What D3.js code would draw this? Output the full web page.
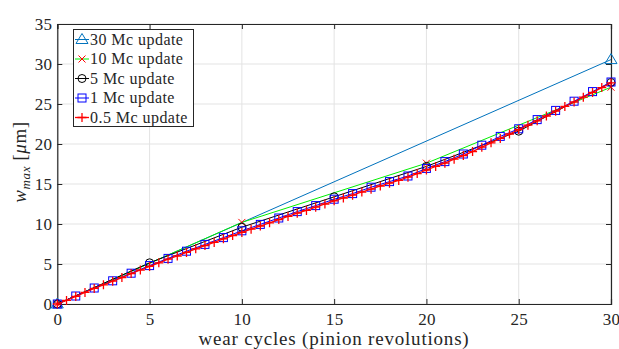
<!DOCTYPE html>
<html>
<head>
<meta charset="utf-8">
<script src="https://cdn.jsdelivr.net/npm/d3@7"></script>
<style>
body { margin: 0; background: #fff; }
svg { display: block; }
text { font-family: "Liberation Serif", "DejaVu Serif", serif; fill: #262626; }
</style>
</head>
<body>
<svg id="chart"></svg>
<script>
// data
var xTicks = [0, 5, 10, 15, 20, 25, 30];
var yTicks = [0, 5, 10, 15, 20, 25, 30, 35];

var x30 = [0, 30];
var y30 = [0, 30.55];

var x10 = [0, 10, 20, 30];
var y10 = [0, 10.2, 17.6, 27.1];

var x5 = [0, 5, 10, 15, 20, 25, 30];
var y5 = [0, 5.15, 9.6, 13.4, 17.2, 21.6, 27.7];

var x1 = d3.range(0, 31, 1);
var y1 = [0, 1.0, 2.0, 2.9, 3.85, 4.8, 5.7, 6.6, 7.45, 8.3, 9.15, 9.95, 10.75, 11.55, 12.3, 13.1,
  13.8, 14.6, 15.3, 16.0, 16.95, 17.8, 18.75, 19.85, 20.95, 21.9, 23.05, 24.2, 25.35, 26.55, 27.75];

var xHalf = d3.range(0, 30.01, 0.5);
var yHalf = [0, 0.45, 0.95, 1.45, 1.95, 2.4, 2.85, 3.3, 3.8, 4.25,
  4.7, 5.15, 5.6, 6.0, 6.45, 6.9, 7.3, 7.7, 8.15, 8.55,
  8.95, 9.35, 9.75, 10.15, 10.55, 10.95, 11.35, 11.7, 12.1, 12.5,
  12.9, 13.25, 13.6, 14.0, 14.35, 14.75, 15.1, 15.45, 15.85, 16.3,
  16.75, 17.2, 17.6, 18.1, 18.55, 19.05, 19.6, 20.15, 20.7, 21.25,
  21.8, 22.35, 22.9, 23.5, 24.1, 24.7, 25.25, 25.85, 26.45, 27.05,
  27.65];

var seriesNames = ["30 Mc update", "10 Mc update", "5 Mc update", "1 Mc update", "0.5 Mc update"];

var screen = {width: 619, height: 349};
var plot = {left: 57.3, right: 611, top: 24, bottom: 304};

var svg = d3.select("#chart")
  .attr("width", screen.width)
  .attr("height", screen.height);

var xScale = d3.scaleLinear().domain([0, 30]).range([plot.left, plot.right]);
var yScale = d3.scaleLinear().domain([0, 35]).range([plot.bottom, plot.top]);

// grid
var grid = svg.append("g").attr("id", "grid");
grid.selectAll(".gx").data(xTicks).enter().append("line")
  .attr("x1", function(d){ return xScale(d); })
  .attr("x2", function(d){ return xScale(d); })
  .attr("y1", plot.top).attr("y2", plot.bottom)
  .attr("stroke", "#e3e3e3").attr("stroke-width", 1);
grid.selectAll(".gy").data(yTicks).enter().append("line")
  .attr("y1", function(d){ return yScale(d); })
  .attr("y2", function(d){ return yScale(d); })
  .attr("x1", plot.left).attr("x2", plot.right)
  .attr("stroke", "#e3e3e3").attr("stroke-width", 1);

// axes (ticks point inward, MATLAB style)
var xAxis = d3.axisBottom(xScale).tickValues(xTicks).tickSize(-5).tickPadding(9);
var yAxis = d3.axisLeft(yScale).tickValues(yTicks).tickSize(-5).tickPadding(5);
var xAxisTop = d3.axisTop(xScale).tickValues(xTicks).tickSize(-5).tickFormat("");
var yAxisRight = d3.axisRight(yScale).tickValues(yTicks).tickSize(-5).tickFormat("");

svg.append("g").attr("class", "axis").attr("transform", "translate(0," + plot.bottom + ")").call(xAxis);
svg.append("g").attr("class", "axis").attr("transform", "translate(" + plot.left + ",0)").call(yAxis);
svg.append("g").attr("class", "axis").attr("transform", "translate(0," + plot.top + ")").call(xAxisTop);
svg.append("g").attr("class", "axis").attr("transform", "translate(" + plot.right + ",0)").call(yAxisRight);

svg.selectAll(".axis path").attr("stroke", "#262626").attr("stroke-width", 1.2);
svg.selectAll(".axis line").attr("stroke", "#262626");
svg.selectAll(".axis text")
  .style("font-family", "'Liberation Serif', serif")
  .style("font-size", "17px")
  .style("letter-spacing", "0.3px")
  .attr("fill", "#262626");

// series
var lineGen = d3.line()
  .x(function(d){ return xScale(d[0]); })
  .y(function(d){ return yScale(d[1]); });

var pairs = function(xs, ys) { return xs.map(function(v, i){ return [v, ys[i]]; }); };

var series = [
  {name: seriesNames[0], pts: pairs(x30, y30), line: "#0072bd", mark: "tri", mcol: "#0072bd", w: 1},
  {name: seriesNames[1], pts: pairs(x10, y10), line: "#00ee00", mark: "x", mcol: "#ff0000", w: 1},
  {name: seriesNames[2], pts: pairs(x5, y5), line: "#000000", mark: "circ", mcol: "#000000", w: 1},
  {name: seriesNames[3], pts: pairs(x1, y1), line: "#0000ff", mark: "sq", mcol: "#0000ff", w: 1},
  {name: seriesNames[4], pts: pairs(xHalf, yHalf), line: "#ff0000", mark: "plus", mcol: "#ff0000", w: 1.3}
];

var drawMarker = function(g, type, col, cx, cy) {
  if (type == "tri") {
    g.append("path").attr("d", "M" + cx + "," + (cy - 6) + "L" + (cx + 6) + "," + (cy + 4) + "L" + (cx - 6) + "," + (cy + 4) + "Z")
      .attr("fill", "none").attr("stroke", col).attr("stroke-width", 1);
  } else if (type == "x") {
    g.append("path").attr("d", "M" + (cx - 3.5) + "," + (cy - 3.5) + "L" + (cx + 3.5) + "," + (cy + 3.5) + "M" + (cx - 3.5) + "," + (cy + 3.5) + "L" + (cx + 3.5) + "," + (cy - 3.5))
      .attr("stroke", col).attr("stroke-width", 1);
  } else if (type == "circ") {
    g.append("circle").attr("cx", cx).attr("cy", cy).attr("r", 4)
      .attr("fill", "none").attr("stroke", col).attr("stroke-width", 1);
  } else if (type == "sq") {
    g.append("rect").attr("x", cx - 4).attr("y", cy - 4).attr("width", 8).attr("height", 8)
      .attr("fill", "none").attr("stroke", col).attr("stroke-width", 1);
  } else if (type == "plus") {
    g.append("path").attr("d", "M" + (cx - 4.5) + "," + cy + "L" + (cx + 4.5) + "," + cy + "M" + cx + "," + (cy - 4.5) + "L" + cx + "," + (cy + 4.5))
      .attr("stroke", col).attr("stroke-width", 1.3);
  }
};

var plotG = svg.append("g").attr("id", "graph");
series.forEach(function(s) {
  var g = plotG.append("g");
  g.append("path").datum(s.pts).attr("d", lineGen)
    .attr("fill", "none").attr("stroke", s.line).attr("stroke-width", s.w);
  s.pts.forEach(function(p) {
    drawMarker(g, s.mark, s.mcol, xScale(p[0]), yScale(p[1]));
  });
});

// legend
var legend = svg.append("g").attr("id", "legend");
legend.append("rect").attr("x", 73.5).attr("y", 29.5).attr("width", 120).attr("height", 97)
  .attr("fill", "#fff").attr("stroke", "#262626").attr("stroke-width", 1);
series.forEach(function(s, i) {
  var ly = 39.5 + i * 19.5;
  var g = legend.append("g");
  g.append("line").attr("x1", 75).attr("x2", 89).attr("y1", ly).attr("y2", ly)
    .attr("stroke", s.line).attr("stroke-width", s.w);
  drawMarker(g, s.mark, s.mcol, 82, ly);
  g.append("text").attr("x", 90).attr("y", ly + 5)
    .style("font-size", "16px").style("letter-spacing", "0.45px").text(s.name);
});

// axis labels
svg.append("text").attr("x", 334).attr("y", 345)
  .attr("text-anchor", "middle").style("font-size", "19px").style("letter-spacing", "0.8px")
  .text("wear cycles (pinion revolutions)");

var yl = svg.append("text").attr("transform", "translate(26," + 162 + ") rotate(-90)")
  .attr("text-anchor", "middle").style("font-size", "19px").style("letter-spacing", "0.6px");
yl.append("tspan").style("font-style", "italic").text("w");
yl.append("tspan").style("font-style", "italic").style("font-size", "13px").attr("dy", 4).text("max");
yl.append("tspan").attr("dy", -4).text(" [");
yl.append("tspan").style("font-style", "italic").text("μ");
yl.append("tspan").text("m]");
</script>
</body>
</html>
